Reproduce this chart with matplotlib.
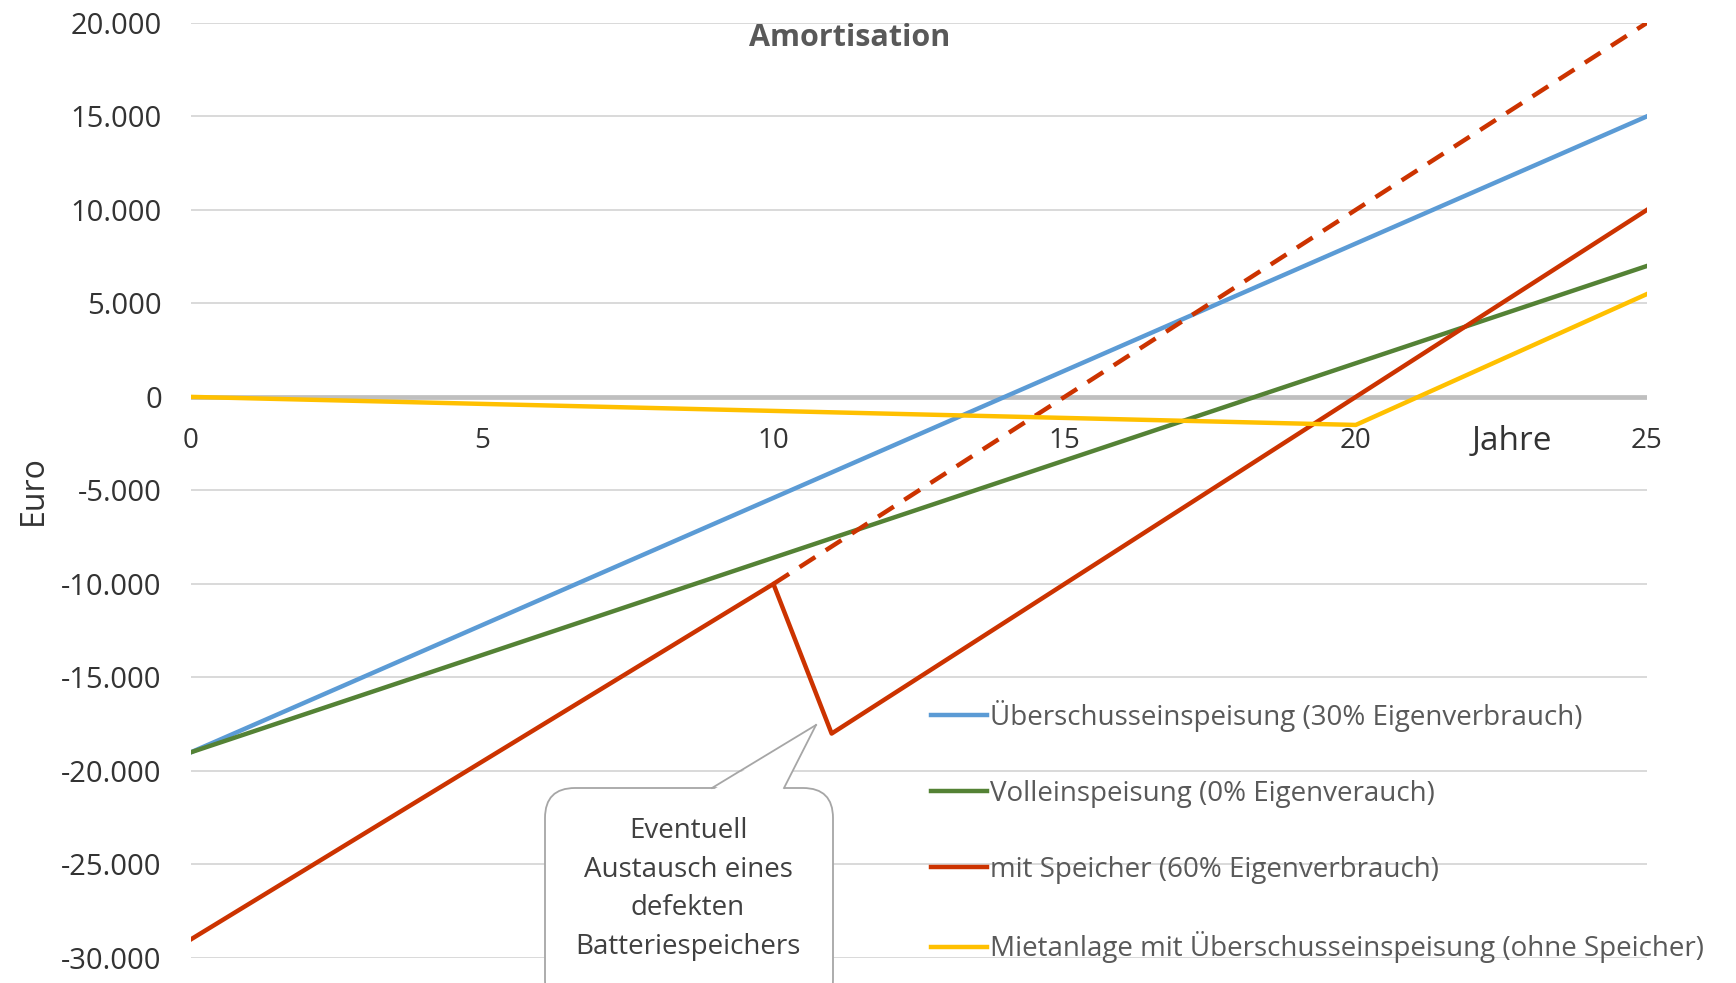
import matplotlib
matplotlib.use("Agg")
import matplotlib.pyplot as plt
from matplotlib.patches import FancyBboxPatch, Polygon
from matplotlib.lines import Line2D
from matplotlib.ticker import FuncFormatter

# Daten
jahre = [0, 25]
ueberschuss = [-19000, 15000]
volleinspeisung = [-19000, 7000]
speicher_jahre = [0, 10, 11, 25]
speicher = [-29000, -10000, -18000, 10000]
speicher_ohne_tausch_jahre = [10, 25]
speicher_ohne_tausch = [-10000, 20000]
miete_jahre = [0, 20, 25]
miete = [0, -1500, 5500]

labels = ["Überschusseinspeisung (30% Eigenverbrauch)",
          "Volleinspeisung (0% Eigenverauch)",
          "mit Speicher (60% Eigenverbrauch)",
          "Mietanlage mit Überschusseinspeisung (ohne Speicher)"]
farben = ["#5B9BD5", "#548235", "#CC3300", "#FFC000"]

plt.rcParams['font.family'] = ['Open Sans', 'DejaVu Sans']

W, H = 1736, 983
fig = plt.figure(figsize=(W / 100, H / 100), dpi=100)
ax = fig.add_axes([191 / W, 1 - 958 / H, (1647 - 191) / W, (958 - 22.8) / H])

lw = 3.2
ax.axhline(0, color="#BFBFBF", lw=3.4, zorder=1.5)
ax.plot(jahre, ueberschuss, color=farben[0], lw=lw, label=labels[0], zorder=3)
ax.plot(jahre, volleinspeisung, color=farben[1], lw=lw, label=labels[1], zorder=3)
ax.plot(speicher_ohne_tausch_jahre, speicher_ohne_tausch, color=farben[2], lw=lw,
        dashes=(4.2, 2.8), zorder=3)
ax.plot(speicher_jahre, speicher, color=farben[2], lw=lw, label=labels[2], zorder=3)
ax.plot(miete_jahre, miete, color=farben[3], lw=lw, label=labels[3], zorder=3)

ax.set_xlim(0, 25)
ax.set_ylim(-30000, 20000)
ax.set_xticks([0, 5, 10, 15, 20, 25])
ax.set_yticks(range(-30000, 20001, 5000))
ax.yaxis.set_major_formatter(FuncFormatter(lambda v, p: f"{int(v):,}".replace(",", ".")))
ax.grid(axis="y", color="#D9D9D9", lw=1.4, zorder=0)
ax.set_axisbelow(True)
for s in ["top", "right", "left"]:
    ax.spines[s].set_visible(False)
ax.spines["bottom"].set_position(("data", 0))
ax.spines["bottom"].set_color("none")
ax.tick_params(axis="x", length=0, pad=22, labelsize=20, labelcolor="#333333")
ax.tick_params(axis="y", length=0, pad=21, labelsize=21, labelcolor="#333333")

def px(x, y):
    return (x / 100, (H - y) / 100)

fig.text(850 / W, 1 - 38 / H, "Amortisation", ha="center", va="center",
         fontsize=22, fontweight="bold", color="#595959")
fig.text(1512 / W, 1 - 441 / H, "Jahre", ha="center", va="center",
         fontsize=24, color="#333333")
fig.text(33 / W, 1 - 490 / H, "Euro", ha="center", va="center", rotation=90,
         fontsize=23, color="#333333")

leg = ax.legend(loc="upper left", bbox_to_anchor=(931 / W, 1 - 700 / H),
                bbox_transform=fig.transFigure, frameon=False, fontsize=20,
                labelspacing=1.72, handlelength=2.0, handletextpad=0.12,
                borderaxespad=0, borderpad=0)
for t in leg.get_texts():
    t.set_color("#595959")

# Sprechblase
box = FancyBboxPatch(px(545, 1010), 288 / 100, (1010 - 788) / 100,
                     boxstyle="round,pad=0,rounding_size=0.3",
                     transform=fig.dpi_scale_trans, facecolor="white",
                     edgecolor="#A6A6A6", lw=1.3, zorder=5)
fig.add_artist(box)
spitze = Polygon([px(713, 790), px(816, 725), px(783, 790)], closed=True,
                 transform=fig.dpi_scale_trans, facecolor="white",
                 edgecolor="none", zorder=6)
fig.add_artist(spitze)
for a, b in [((712, 788), (816, 725)), ((784, 788), (816, 725))]:
    fig.add_artist(Line2D([px(*a)[0], px(*b)[0]], [px(*a)[1], px(*b)[1]],
                          transform=fig.dpi_scale_trans, color="#A6A6A6",
                          lw=1.3, zorder=7))
fig.text(688 / W, 1 - 889 / H, "Eventuell\nAustausch eines\ndefekten\nBatteriespeichers",
         ha="center", va="center", fontsize=20, color="#404040",
         linespacing=1.52, zorder=8)

fig.savefig("out.png", dpi=100)
